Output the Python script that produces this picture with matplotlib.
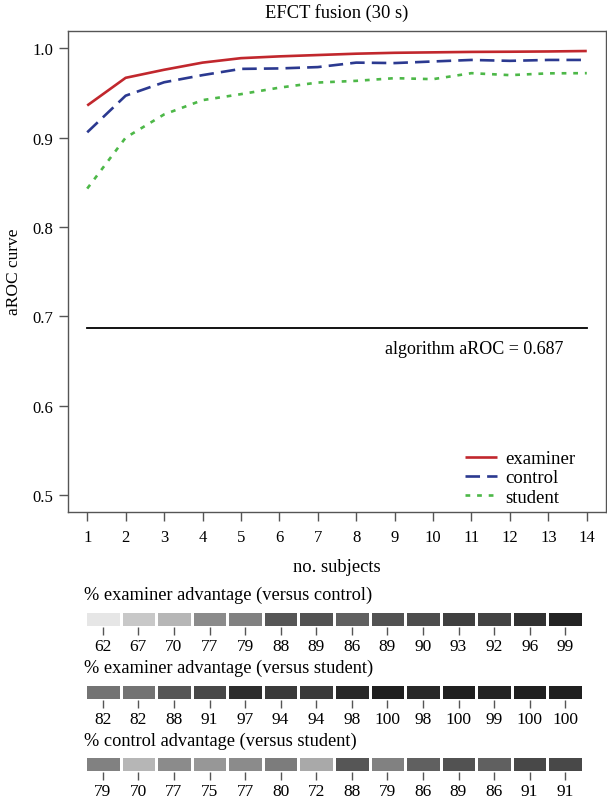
import matplotlib
matplotlib.use("Agg")
import matplotlib.pyplot as plt
import numpy as np
from matplotlib.colors import LinearSegmentedColormap, Normalize

plt.rcParams['font.family'] = ['Liberation Serif', 'DejaVu Serif']

# ---------------- data ----------------
n_subjects = list(range(1, 15))
examiner = [0.936, 0.967, 0.976, 0.984, 0.989, 0.991, 0.9925, 0.994, 0.995, 0.9955, 0.996, 0.9962, 0.9965, 0.997]
control = [0.906, 0.947, 0.962, 0.970, 0.977, 0.9775, 0.979, 0.984, 0.9835, 0.9853, 0.987, 0.986, 0.987, 0.987]
student = [0.843, 0.900, 0.926, 0.942, 0.9487, 0.956, 0.9617, 0.9636, 0.9666, 0.9655, 0.9722, 0.970, 0.972, 0.9722]
algorithm_aroc = 0.687

adv_exam_vs_control = [62, 67, 70, 77, 79, 88, 89, 86, 89, 90, 93, 92, 96, 99]
adv_exam_vs_student = [82, 82, 88, 91, 97, 94, 94, 98, 100, 98, 100, 99, 100, 100]
adv_control_vs_student = [79, 70, 77, 75, 77, 80, 72, 88, 79, 86, 89, 86, 91, 91]

strip_titles = ["% examiner advantage (versus control)",
                "% examiner advantage (versus student)",
                "% control advantage (versus student)"]

# ---------------- figure ----------------
W, H = 607, 803
fig = plt.figure(figsize=(W / 100, H / 100), dpi=100)

def rect(x0, y0, x1, y1):
    return [x0 / W, 1 - y1 / H, (x1 - x0) / W, (y1 - y0) / H]

spine_col = '#555555'
ax = fig.add_axes(rect(68, 32, 606, 513))
ax.plot(n_subjects, examiner, color='#c1272d', lw=1.9, solid_capstyle='butt', label='examiner')
ax.plot(n_subjects, control, color='#2b3990', lw=1.9, dashes=(5.5, 2.7), label='control')
ax.plot(n_subjects, student, color='#4db848', lw=1.9, dashes=(1.8, 2.6), label='student')
ax.plot([n_subjects[0], n_subjects[-1]], [algorithm_aroc, algorithm_aroc], color='black', lw=1.3)
ax.text(13.4, algorithm_aroc - 0.023, 'algorithm aROC = 0.687', ha='right', va='center', fontsize=13)

ax.set_xlim(0.5, 14.5)
ax.set_ylim(0.481, 1.0194)
ax.set_xticks(n_subjects)
ax.set_yticks([0.5, 0.6, 0.7, 0.8, 0.9, 1.0])
ax.set_yticklabels(['0.5', '0.6', '0.7', '0.8', '0.9', '1.0'])
for s in ax.spines.values():
    s.set_color(spine_col)
    s.set_linewidth(1.0)
ax.tick_params(direction='out', width=1.0, color=spine_col, labelsize=12)
ax.tick_params(axis='x', length=6.2, pad=6.3)
ax.tick_params(axis='y', length=6.8, pad=4)

leg = ax.legend(loc='upper left', bbox_to_anchor=(465 / W, 1 - 451 / H), bbox_transform=fig.transFigure,
                frameon=False, fontsize=13.5, handlelength=1.7, handletextpad=0.43,
                labelspacing=0.12, borderpad=0, borderaxespad=0)

fig.text(337 / W, 1 - 13 / H, 'EFCT fusion (30 s)', ha='center', va='center', fontsize=13.3)
fig.text(14 / W, 1 - 272 / H, 'aROC curve', ha='center', va='center', rotation=90, fontsize=12.5)
fig.text(337 / W, 1 - 567 / H, 'no. subjects', ha='center', va='center', fontsize=13.3)

# ---------------- strips ----------------
cmap = LinearSegmentedColormap.from_list('adv', [(0.0, '#e6e6e6'), (0.395, '#8b8b8b'),
                                                 (0.684, '#565656'), (1.0, '#1f1f1f')])
norm = Normalize(62, 100)

strips = [adv_exam_vs_control, adv_exam_vs_student, adv_control_vs_student]
title_y = [595, 668, 741]
strip_top = [612, 685, 757]
for vals, title, ty, top in zip(strips, strip_titles, title_y, strip_top):
    sax = fig.add_axes(rect(85, top, 583, top + 16))
    data = np.array(vals, dtype=float)[None, :]
    sax.pcolormesh(np.arange(len(vals) + 1) + 0.5, [0, 1], data, cmap=cmap, norm=norm,
                   edgecolor='white', linewidth=1.0)
    sax.set_xlim(0.5, len(vals) + 0.5)
    sax.set_ylim(0, 1)
    sax.set_xticks(np.arange(1, len(vals) + 1))
    sax.set_xticklabels([str(v) for v in vals])
    sax.set_yticks([])
    for s in sax.spines.values():
        s.set_visible(False)
    sax.tick_params(axis='x', direction='out', length=6, width=1.0, color=spine_col, labelsize=12.5, pad=2)
    fig.text(84 / W, 1 - ty / H, title, ha='left', va='center', fontsize=13.2)

fig.savefig('out.png', dpi=100)
